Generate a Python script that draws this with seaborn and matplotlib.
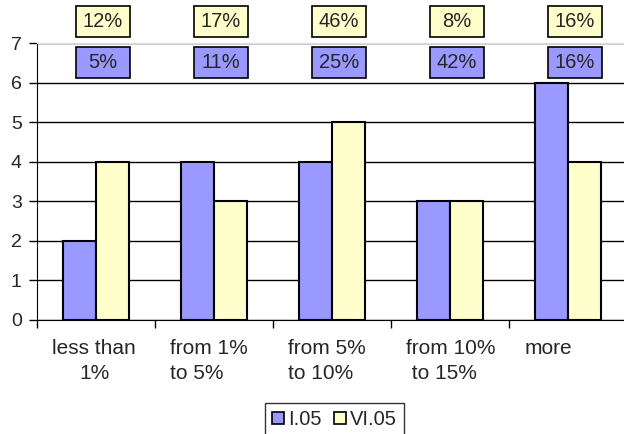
import numpy as np
import pandas as pd
import matplotlib
matplotlib.use('Agg')
import matplotlib.pyplot as plt
from matplotlib.patches import Rectangle
import seaborn as sns

sns.set_style('white')
plt.rcParams['font.family'] = ['Liberation Sans', 'DejaVu Sans']

# Data
categories = ['less than\n1%', 'from 1%\nto 5%', 'from 5%\nto 10%', 'from 10%\n to 15%', 'more']
series_names = ['I.05', 'VI.05']
i05 = [2, 4, 4, 3, 6]
vi05 = [4, 3, 5, 3, 4]
i05_share = ['5%', '11%', '25%', '42%', '16%']
vi05_share = ['12%', '17%', '46%', '8%', '16%']

df = pd.DataFrame({
    'category': categories * 2,
    'series': [series_names[0]] * len(categories) + [series_names[1]] * len(categories),
    'count': i05 + vi05,
})

colors = {'I.05': '#9999FF', 'VI.05': '#FFFFCC'}

fig = plt.figure(figsize=(6.24, 4.34), dpi=100)
ax = fig.add_axes([37 / 624, 114 / 434, 590 / 624, 277 / 434])

sns.barplot(data=df, x='category', y='count', hue='series', palette=colors,
            width=0.56, gap=0, edgecolor='black', linewidth=1.5,
            saturation=1, ax=ax, zorder=3)

ax.set_xlim(-0.5, len(categories) - 0.5)
ax.set_ylim(0, 7)
ax.set_yticks(range(0, 8))
ax.yaxis.grid(True, color='black', linewidth=1)
ax.set_axisbelow(True)
ax.set_xlabel(None)
ax.set_ylabel(None)

ax.spines['right'].set_visible(False)
ax.spines['top'].set_color('#dddddd')
ax.spines['left'].set_color('black')
ax.spines['bottom'].set_color('black')

# category labels, left aligned like the original text boxes
ax.set_xticks(np.arange(len(categories)) - 0.37, labels=categories)
for lab in ax.get_xticklabels():
    lab.set_horizontalalignment('left')
    lab.set_multialignment('left')
    lab.set_linespacing(1.4)
ax.get_xticklabels()[0].set_multialignment('center')
ax.tick_params(axis='x', which='major', length=0, pad=14, labelsize=15)
ax.set_xticks(np.arange(-0.5, len(categories)), minor=True)
ax.tick_params(axis='x', which='minor', length=6, width=1, color='black', direction='out', bottom=True)
ax.tick_params(axis='y', length=6, width=1, color='black', direction='out', left=True, pad=5, labelsize=14)

# percentage boxes above each group
for i in range(len(categories)):
    xc = i + 0.06
    for label, y0, col in [(i05_share[i], 6.12, colors['I.05']), (vi05_share[i], 7.15, colors['VI.05'])]:
        ax.add_patch(Rectangle((xc - 0.229, y0), 0.458, 0.78, facecolor=col, edgecolor='black',
                               linewidth=1.2, clip_on=False, zorder=5))
        ax.text(xc, y0 + 0.39, label, ha='center', va='center', fontsize=14.5, zorder=6, clip_on=False)

ax.legend_.remove()
handles = [Rectangle((0, 0), 1, 1, facecolor=colors[s], edgecolor='black', linewidth=1.2) for s in series_names]
leg = fig.legend(handles, series_names, loc='upper center', bbox_to_anchor=(0.536, 0.0714), ncol=2,
                 frameon=True, fancybox=False, fontsize=14.5, handlelength=0.6, handleheight=0.6,
                 handletextpad=0.2, columnspacing=0.6, borderpad=0.35, borderaxespad=0)
leg.get_frame().set_edgecolor('black')
leg.get_frame().set_linewidth(1)

fig.savefig('out.png', dpi=100)
